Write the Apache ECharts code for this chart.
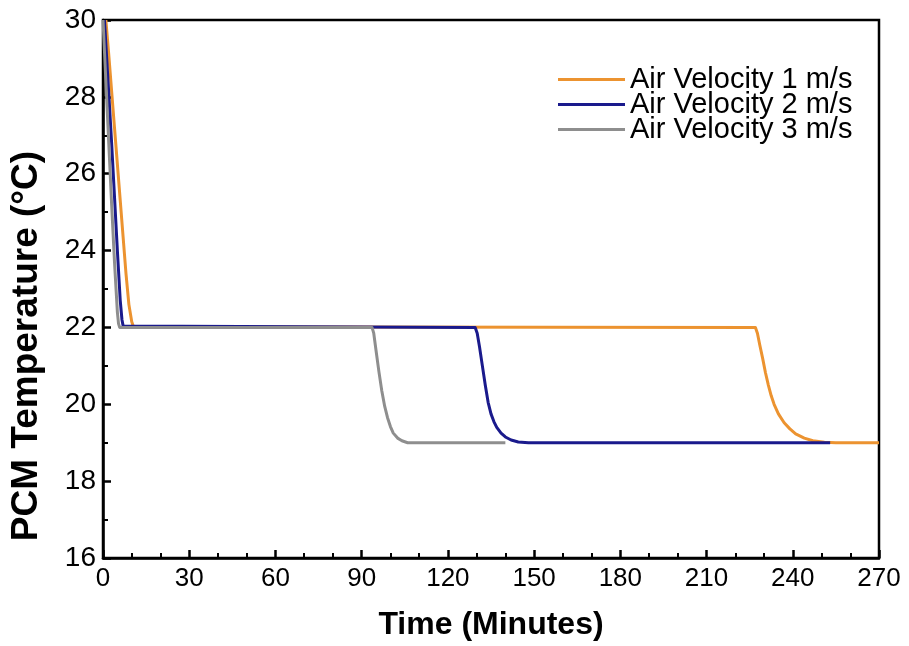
<!DOCTYPE html>
<html>
<head>
<meta charset="utf-8">
<script src="https://cdn.jsdelivr.net/npm/echarts@6/dist/echarts.min.js"></script>
<style>html,body{margin:0;padding:0;background:#fff;}#c{width:909px;height:646px;}</style>
</head>
<body>
<div id="c"></div>
<script>
const seriesNames = ['Air Velocity 1 m/s', 'Air Velocity 2 m/s', 'Air Velocity 3 m/s'];
const xTicks = [0, 30, 60, 90, 120, 150, 180, 210, 240, 270];
const yTicks = [16, 18, 20, 22, 24, 26, 28, 30];
const xTitle = 'Time (Minutes)';
const yTitle = 'PCM Temperature (°C)';

const v1Time = [1, 2, 4, 6, 8, 9, 10, 10.6, 11, 227, 227.7, 228.5, 229.5, 230.5, 231.5, 232.5, 233.5, 235, 237, 239, 241, 244, 247, 251, 255, 270];
const v1Temp = [30, 29.1, 27.2, 25.3, 23.4, 22.6, 22.15, 22.02, 22, 22, 21.85, 21.55, 21.2, 20.82, 20.5, 20.22, 20.0, 19.75, 19.52, 19.36, 19.23, 19.12, 19.05, 19.01, 19.0, 19.0];

const v2Time = [0.5, 2, 3, 4, 5, 6, 6.6, 7, 7.3, 129.5, 130.2, 131, 132, 133, 134, 135, 136, 137, 138.5, 140, 142, 144.5, 148, 253];
const v2Temp = [30, 28.1, 26.8, 25.4, 24.0, 22.7, 22.2, 22.04, 22, 22, 21.85, 21.5, 21.0, 20.5, 20.05, 19.75, 19.55, 19.4, 19.25, 19.15, 19.07, 19.02, 19.0, 19.0];

const v3Time = [0, 1, 2, 3, 4, 5, 5.4, 5.8, 93.6, 94.2, 95, 96, 97, 98, 99, 100, 101, 102.5, 104, 106, 140];
const v3Temp = [30, 28.4, 26.8, 25.2, 23.7, 22.4, 22.1, 22, 22, 21.85, 21.4, 20.85, 20.35, 19.95, 19.65, 19.42, 19.25, 19.12, 19.05, 19.0, 19.0];

const colors = ['#EC9330', '#1A1A8C', '#8E8E8E'];
const pairs = (xs, ys) => xs.map((x, i) => [x, ys[i]]);
const dataSets = [pairs(v1Time, v1Temp), pairs(v2Time, v2Temp), pairs(v3Time, v3Temp)];

const font = 'Arial, "Liberation Sans", sans-serif';
const chart = echarts.init(document.getElementById('c'));
chart.setOption({
  animation: false,
  backgroundColor: '#fff',
  grid: { left: 103, right: 30, top: 20, bottom: 88, show: true, borderColor: '#000', borderWidth: 2.5, backgroundColor: 'transparent' },
  legend: {
    data: seriesNames,
    orient: 'vertical', left: 553, top: 60,
    icon: 'rect', itemWidth: 67, itemHeight: 3, itemGap: -4,
    textStyle: { fontFamily: font, fontSize: 29, color: '#000' }
  },
  graphic: [{
    type: 'text', x: 27, y: 346, rotation: Math.PI / 2,
    style: { text: yTitle, font: 'bold 37px ' + font, fill: '#000', align: 'center', verticalAlign: 'middle' }
  }],
  xAxis: {
    type: 'value', min: xTicks[0], max: xTicks[xTicks.length - 1], interval: 30,
    name: xTitle, nameLocation: 'middle', nameGap: 51,
    nameTextStyle: { fontFamily: font, fontSize: 32, fontWeight: 'bold', color: '#000' },
    axisLine: { show: true, lineStyle: { color: '#000', width: 2.5 } },
    axisTick: { show: true, inside: true, length: 8, lineStyle: { color: '#000', width: 2.5 } },
    minorTick: { show: true, splitNumber: 3, length: 5, lineStyle: { color: '#000', width: 2 } },
    splitLine: { show: false },
    axisLabel: { fontFamily: font, fontSize: 26, color: '#000', margin: 8 }
  },
  yAxis: {
    type: 'value', min: yTicks[0], max: yTicks[yTicks.length - 1], interval: 2,
    axisLine: { show: true, lineStyle: { color: '#000', width: 2.5 } },
    axisTick: { show: true, inside: true, length: 8, lineStyle: { color: '#000', width: 2.5 } },
    minorTick: { show: true, splitNumber: 2, length: 5, lineStyle: { color: '#000', width: 2 } },
    splitLine: { show: false },
    axisLabel: { fontFamily: font, fontSize: 28, color: '#000', margin: 7 }
  },
  series: [0, 1, 2].map(i => ({
    name: seriesNames[i], type: 'line', data: dataSets[i],
    showSymbol: false, symbol: 'none', smooth: false,
    lineStyle: { color: colors[i], width: 3, join: 'round' }, itemStyle: { color: colors[i] },
    z: 2 + i
  }))
});
</script>
</body>
</html>
